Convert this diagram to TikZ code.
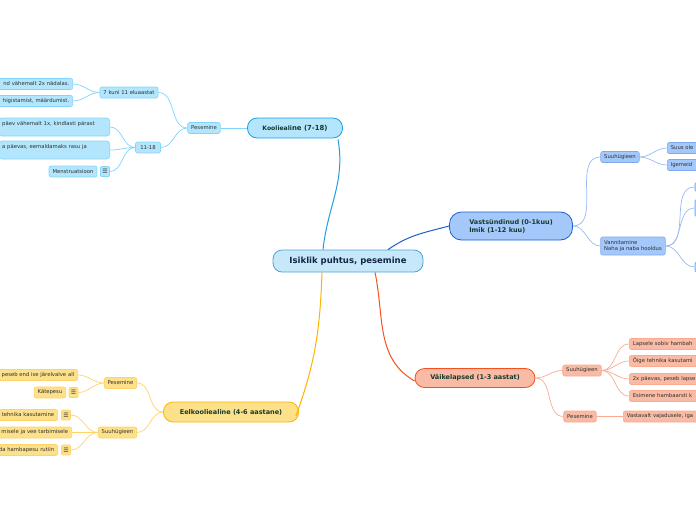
\documentclass[tikz,border=0pt]{standalone}
\usepackage{fontspec}
\setmainfont{DejaVu Sans}
\definecolor{rootF}{HTML}{C6E8F9}\definecolor{rootD}{HTML}{4FA3D9}
\definecolor{cyF}{HTML}{B3E5FC}\definecolor{cyD}{HTML}{1E9FE0}\definecolor{cyL}{HTML}{81D4FA}
\definecolor{blF}{HTML}{A4C8FA}\definecolor{blD}{HTML}{1A5FD0}\definecolor{blL}{HTML}{7FA9EE}
\definecolor{orF}{HTML}{F9BBA5}\definecolor{orD}{HTML}{F4511E}\definecolor{orL}{HTML}{FBA98F}
\definecolor{yeF}{HTML}{FDE08A}\definecolor{yeD}{HTML}{FFB300}\definecolor{yeL}{HTML}{FFD36A}
\definecolor{mainT}{HTML}{173A2C}\definecolor{leafT}{HTML}{2E2E2E}\definecolor{rootT}{HTML}{152447}
\begin{document}
\begin{tikzpicture}[x=1pt,y=-1pt,
  rootn/.style={draw=rootD,fill=rootF,line width=0.8pt,rounded corners=9pt,
    font=\bfseries\fontsize{8.5}{9}\selectfont,text=rootT,minimum width=150pt,minimum height=22pt,inner sep=0pt},
  mainn/.style={draw,line width=0.8pt,rounded corners=9.5pt,font=\bfseries\fontsize{6.5}{8}\selectfont,
    text=mainT,minimum height=20pt,inner sep=0pt},
  leaf/.style={draw,line width=0.6pt,rounded corners=2pt,font=\fontsize{5.3}{6.3}\selectfont,text=leafT,
    minimum height=11pt,inner xsep=3.5pt,inner ysep=1pt},
  icon/.style={draw,line width=0.6pt,rounded corners=1pt,font=\fontsize{6}{6}\selectfont,text=leafT,
    minimum width=9pt,minimum height=10pt,inner sep=0pt},
  cy/.style={draw=cyL,fill=cyF},bl/.style={draw=blL,fill=blF},
  orr/.style={draw=orL,fill=orF},ye/.style={draw=yeL,fill=yeF},
  conn/.style={line width=0.7pt}]
\useasboundingbox (0,0) rectangle (696,520);

% ---------- root ----------
\node[rootn] (root) at (348,261) {Isiklik puhtus, pesemine};

% ---------- Kooliealine ----------
\node[mainn,draw=cyD,fill=cyF,minimum width=95pt] (kool) at (295,128)
  {{\fontsize{6.1}{7}\selectfont Koolieali}{\fontsize{6.9}{7}\selectfont ne (7-18)}};
\node[leaf,cy] (pesK) at (204,128) {Pesemine};
\node[leaf,cy] (k711) at (129,92.5) {7 kuni 11 eluaastat};
\node[leaf,cy,minimum width=25pt] (k1118) at (148,147.5) {11-18};
\node[leaf,cy,anchor=east,text width=90pt,align=right] (k711a) at (73,84) {nd vähemalt 2x nädalas.};
\node[leaf,cy,anchor=east,text width=90pt,align=right] (k711b) at (73,101) {higistamist, määrdumist.};
\node[leaf,cy,anchor=east,text width=104pt,align=left,minimum height=18pt,rounded corners=3pt] (k18a) at (110,127)
  {päev vähemalt 1x, kindlasti pärast\\\mbox{}};
\node[leaf,cy,anchor=east,text width=104pt,align=left,minimum height=18pt,rounded corners=3pt] (k18b) at (110,150)
  {a päevas, eemaldamaks rasu ja\\\mbox{}};
\node[leaf,cy] (men) at (73,171.5) {Menstruatsioon};
\node[icon,cy] (menI) at (105,171.5) {☰};

\draw[cyD,line width=1pt] ([xshift=-25pt]root.north) to[out=84,in=-80] ([xshift=43pt,yshift=-1pt]kool.south);
\begin{scope}[conn,cyL]
\draw (kool.west) -- (pesK.east);
\draw (pesK.west) to[out=180,in=0] (k711.east);
\draw (pesK.west) to[out=180,in=0] (k1118.east);
\draw (k711.west) to[out=180,in=0] (k711a.east);
\draw (k711.west) to[out=180,in=0] (k711b.east);
\draw (k1118.west) to[out=180,in=0] (k18a.east);
\draw (k1118.west) to[out=180,in=0] (k18b.east);
\draw (k1118.west) to[out=180,in=0] (menI.east);
\end{scope}

% ---------- Vastsyndinud ----------
\node[mainn,draw=blD,fill=blF,minimum width=123pt,minimum height=28pt,align=left,rounded corners=12pt] (vast) at (511,226)
  {Vastsündinud (0-1kuu)\\Imik (1-12 kuu)};
\node[leaf,bl] (vsuu) at (620,157) {Suuhügieen};
\node[leaf,bl,align=left,minimum height=18pt] (vvann) at (633,246) {Vannitamine\\Naha ja naba hooldus};
\node[leaf,bl,anchor=west,text width=60pt,align=left] (vs1) at (667,148) {Suus ole};
\node[leaf,bl,anchor=west,text width=60pt,align=left] (vs2) at (667,165) {Igemeid};
\node[leaf,bl,anchor=west,minimum width=30pt,minimum height=9pt] (vv1) at (694.5,187) {};
\node[leaf,bl,anchor=west,minimum width=30pt,minimum height=17pt] (vv2) at (694.5,208) {};
\node[leaf,bl,anchor=west,minimum width=30pt,minimum height=10pt] (vv3) at (694.5,267) {};

\draw[blD,line width=1pt] ([xshift=40pt]root.north) to[out=35,in=195] (vast.west);
\begin{scope}[conn,blL!80!white]
\draw (vast.east) to[out=0,in=180] (vsuu.west);
\draw (vast.east) to[out=0,in=180] (vvann.west);
\draw (vsuu.east) to[out=0,in=180] (vs1.west);
\draw (vsuu.east) to[out=0,in=180] (vs2.west);
\draw (vvann.east) to[out=0,in=180] (vv1.west);
\draw (vvann.east) to[out=0,in=180] (vv2.west);
\draw (vvann.east) to[out=0,in=180] (vv3.west);
\end{scope}

% ---------- Vaikelapsed ----------
\node[mainn,draw=orD,fill=orF,minimum width=120pt,minimum height=19pt] (vaik) at (475,378) {Väikelapsed (1-3 aastat)};
\node[leaf,orr] (osuu) at (582,370.5) {Suuhügieen};
\node[leaf,orr] (opes) at (580,416.5) {Pesemine};
\node[leaf,orr,anchor=west,text width=80pt,align=left] (o1) at (629,344) {Lapsele sobiv hambah};
\node[leaf,orr,anchor=west,text width=80pt,align=left] (o2) at (629,361) {Õige tehnika kasutami};
\node[leaf,orr,anchor=west,text width=80pt,align=left] (o3) at (629,379) {2x päevas, peseb lapse};
\node[leaf,orr,anchor=west,text width=80pt,align=left] (o4) at (629,396) {Esimene hambaarsti k};
\node[leaf,orr,anchor=west,text width=85pt,align=left] (o5) at (623,416.5) {Vastavalt vajadusele, iga};

\draw[orD,line width=1pt] ([xshift=27pt]root.south) to[out=-78,in=150] ([yshift=-3pt]vaik.west);
\begin{scope}[conn,orL]
\draw (vaik.east) to[out=0,in=180] (osuu.west);
\draw (vaik.east) to[out=0,in=180] (opes.west);
\draw (osuu.east) to[out=0,in=180] (o1.west);
\draw (osuu.east) to[out=0,in=180] (o2.west);
\draw (osuu.east) to[out=0,in=180] (o3.west);
\draw (osuu.east) to[out=0,in=180] (o4.west);
\draw (opes.east) -- (o5.west);
\end{scope}

% ---------- Eelkooliealine ----------
\node[mainn,draw=yeD,fill=yeF,minimum width=135pt] (eel) at (231,412) {Eelkooliealine (4-6 aastane)};
\node[leaf,ye] (epes) at (120.5,383) {Pesemine};
\node[leaf,ye] (esuu) at (117.5,432.5) {Suuhügieen};
\node[leaf,ye,anchor=east,text width=90pt,align=right] (e1) at (78,375) {peseb end ise järelvalve all};
\node[leaf,ye] (e2) at (50,392.5) {Kätepesu};
\node[icon,ye] (e2I) at (73.5,392.5) {☰};
\node[leaf,ye,anchor=east,text width=70pt,align=right] (s1) at (58,415) {tehnika kasutamine};
\node[icon,ye] (s1I) at (66,415) {☰};
\node[leaf,ye,anchor=east,text width=90pt,align=right] (s2) at (72,432.5) {misele ja vee tarbimisele};
\node[icon,ye] (s3I) at (66,450) {☰};
\node[leaf,ye,anchor=east,text width=70pt,align=right] (s3) at (58,450) {da hambapesu rutiin};

\draw[yeD,line width=1pt] ([xshift=-26pt]root.south) to[out=-92,in=70] ([xshift=-3pt,yshift=-4pt]eel.east);
\begin{scope}[conn,yeL]
\draw (eel.west) to[out=180,in=0] (epes.east);
\draw (eel.west) to[out=180,in=0] (esuu.east);
\draw (epes.west) to[out=180,in=0] (e1.east);
\draw (epes.west) to[out=180,in=0] (e2I.east);
\draw (esuu.west) to[out=180,in=0] (s1I.east);
\draw (esuu.west) to[out=180,in=0] (s2.east);
\draw (esuu.west) to[out=180,in=0] (s3I.east);
\end{scope}
\end{tikzpicture}
\end{document}
